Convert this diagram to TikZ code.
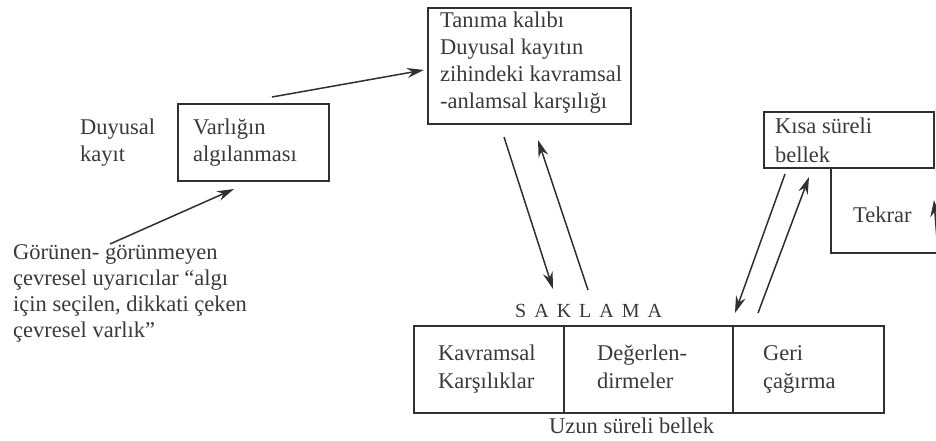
\documentclass[tikz,border=0pt]{standalone}
\usepackage{fontspec}
\setmainfont{Liberation Serif}
\usetikzlibrary{arrows.meta}
\definecolor{ink}{HTML}{303030}
\definecolor{txt}{HTML}{3A3A3A}
\begin{document}
\begin{tikzpicture}[x=1pt,y=-1pt,
  box/.style={draw=ink, line width=1.7pt, inner sep=0pt, anchor=north west},
  lbl/.style={text=txt, font=\fontsize{22.5}{27}\selectfont, inner sep=0pt, anchor=base west},
  arr/.style={draw=ink, line width=1.5pt, -{Stealth[length=17pt,width=10pt]}}]
\useasboundingbox[fill=white] (0,0) rectangle (936,441);

% boxes
\node[box, minimum width=151pt, minimum height=77pt] (vbox) at (177,103) {};
\node[box, minimum width=203pt, minimum height=116pt] (tbox) at (427,7) {};
\node[box, minimum width=170pt, minimum height=56pt] (kbox) at (763,111) {};
\node[box, minimum width=150pt, minimum height=87pt] (b1) at (413,325) {};
\node[box, minimum width=169pt, minimum height=87pt] (b2) at (563,325) {};
\node[box, minimum width=151pt, minimum height=87pt] (b3) at (732,325) {};
\coordinate (t0) at (831,167);
\coordinate (t1) at (940,253);
\draw[ink, line width=1.7pt] (t0) |- (t1);

% texts
\node[lbl] (dk) at (80,135) {\vtop{\hbox{Duyusal}\hbox{kayıt}}};
\node[lbl] (vt) at (193,135) {\vtop{\hbox{Varlığın}\hbox{algılanması}}};
\node[lbl] (tt) at (440,28) {\vtop{\hbox{Tanıma kalıbı}\hbox{Duyusal kayıtın}\hbox{zihindeki kavramsal}\hbox{-anlamsal karşılığı}}};
\node[lbl] (kt) at (775,133) {\vtop{\baselineskip=29pt\hbox{Kısa süreli}\hbox{bellek}}};
\node[lbl] (tk) at (853,222) {Tekrar};
\node[lbl] (gt) at (13,259) {\vtop{\baselineskip=26pt\hbox{Görünen- görünmeyen}\hbox{çevresel uyarıcılar “algı}\hbox{için seçilen, dikkati çeken}\hbox{çevresel varlık”}}};
\node[lbl] (b1t) at (438,360) {\vtop{\baselineskip=28pt\hbox{Kavramsal}\hbox{Karşılıklar}}};
\node[lbl] (b2t) at (597,360) {\vtop{\baselineskip=28pt\hbox{Değerlen-}\hbox{dirmeler}}};
\node[lbl] (b3t) at (763,360) {\vtop{\baselineskip=28pt\hbox{Geri}\hbox{çağırma}}};
\node[lbl, font=\fontsize{20}{20}\selectfont] (sak) at (515,317) {S\hspace{8pt}A\hspace{8pt}K\hspace{8pt}L\hspace{8pt}A\hspace{8pt}M\hspace{8pt}A};
\node[lbl] (uz) at (549,433) {Uzun süreli bellek};

% arrows
\coordinate (g0) at (110,244); \coordinate (g1) at (234,189);
\coordinate (v0) at (272,97);  \coordinate (v1) at (424,70);
\coordinate (d0) at (504,137); \coordinate (d1) at (553,289);
\coordinate (u0) at (588,290); \coordinate (u1) at (538,140);
\coordinate (k0) at (785,174); \coordinate (k1) at (735,313);
\coordinate (r0) at (758,313); \coordinate (r1) at (809,177);
\coordinate (e0) at (937,240); \coordinate (e1) at (934,200);
\draw[arr] (g0) -- (g1);
\draw[arr] (v0) -- (v1);
\draw[arr] (d0) -- (d1);
\draw[arr] (u0) -- (u1);
\draw[arr] (k0) -- (k1);
\draw[arr] (r0) -- (r1);
\draw[arr] (e0) -- (e1);
\end{tikzpicture}
\end{document}
